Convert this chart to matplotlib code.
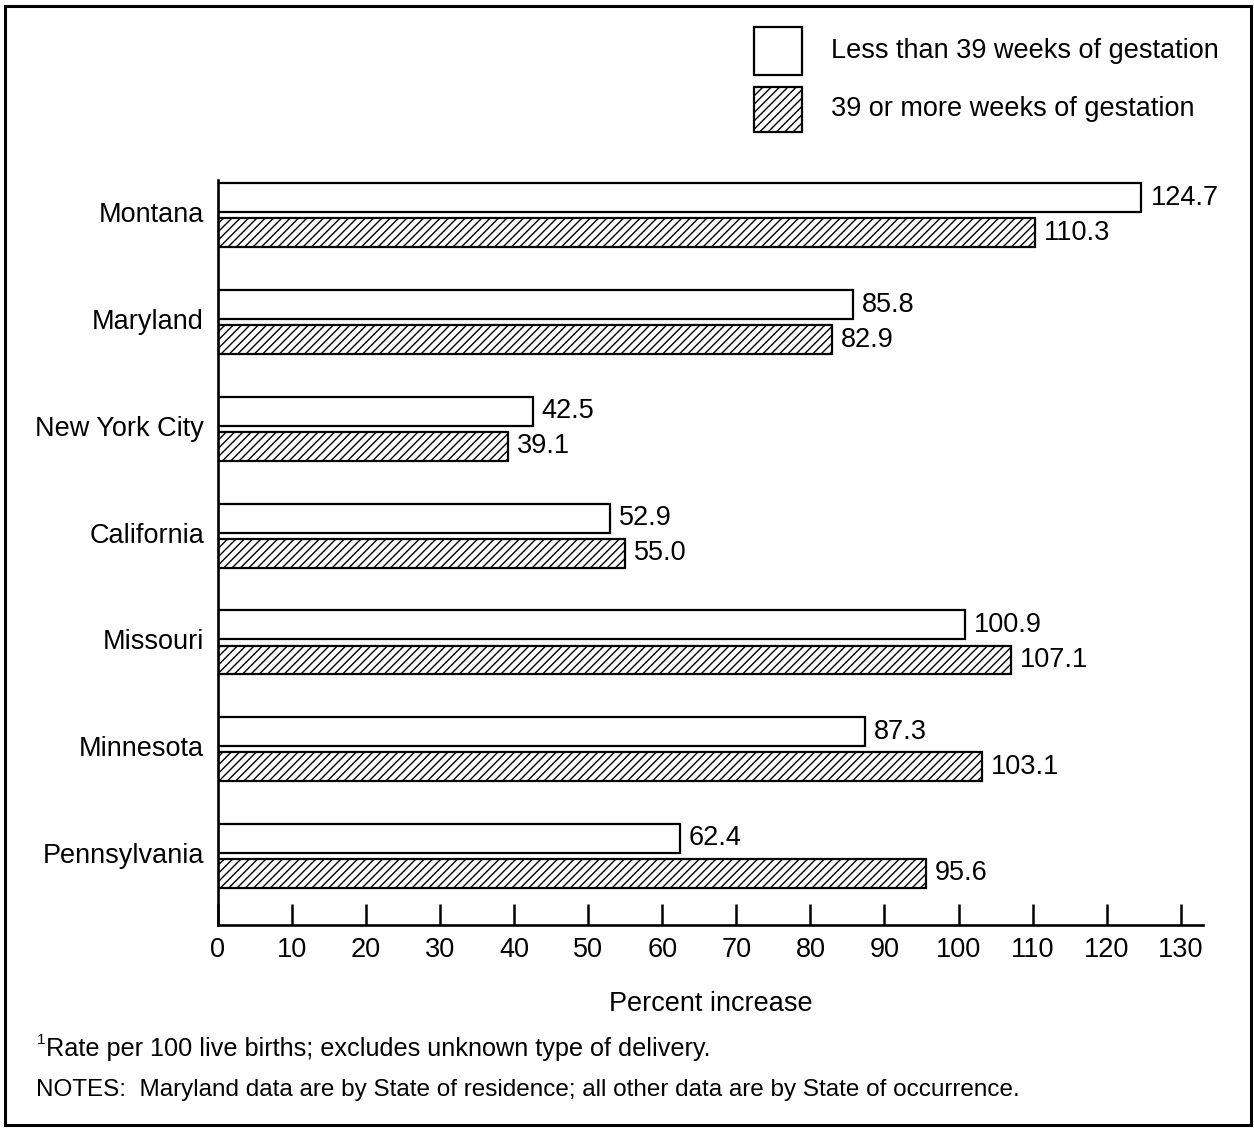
import matplotlib.pyplot as plt
from matplotlib.patches import Rectangle


states = ["Montana", "Maryland", "New York City", "California",
          "Missouri", "Minnesota", "Pennsylvania"]
less_39 = [124.7, 85.8, 42.5, 52.9, 100.9, 87.3, 62.4]
more_39 = [110.3, 82.9, 39.1, 55.0, 107.1, 103.1, 95.6]
x_ticks = list(range(0, 140, 10))

legend_labels = ["Less than 39 weeks of gestation", "39 or more weeks of gestation"]
footnote = "Rate per 100 live births; excludes unknown type of delivery."
notes = "NOTES:  Maryland data are by State of residence; all other data are by State of occurrence."

plt.rcParams["font.family"] = ["Liberation Sans", "DejaVu Sans"]
plt.rcParams["hatch.linewidth"] = 1.0

FS = 19.5

fig = plt.figure(figsize=(12.54, 11.28), dpi=100)
ax = fig.add_axes([0.1738, 0.18, 0.7855, 0.6604])

pos = list(range(len(states)))
h = 0.27
off = 0.164

ax.barh([p - off for p in pos], less_39, height=h, color="white",
        edgecolor="black", linewidth=1.6)
ax.barh([p + off for p in pos], more_39, height=h, color="white",
        edgecolor="black", linewidth=1.6, hatch="////")

# подписи значень
for p, v in zip(pos, less_39):
    ax.text(v + 1.2, p - off, f"{v:.1f}", va="center", ha="left", fontsize=FS)
for p, v in zip(pos, more_39):
    ax.text(v + 1.2, p + off, f"{v:.1f}", va="center", ha="left", fontsize=FS)

ax.set_xlim(0, 133)
ax.set_ylim(6.646, -0.33)
ax.set_xticks(x_ticks)
ax.set_xticklabels([str(t) for t in x_ticks], fontsize=FS)
ax.set_yticks(pos)
ax.set_yticklabels(states, fontsize=FS, va="center")
ax.tick_params(axis="x", direction="in", length=15, width=1.8, pad=9)
ax.tick_params(axis="y", length=0, pad=10)
ax.set_xlabel("Percent increase", fontsize=FS, labelpad=20)

for side in ["top", "right"]:
    ax.spines[side].set_visible(False)
for side in ["left", "bottom"]:
    ax.spines[side].set_linewidth(1.9)

# легенда вручну
W, H = 1254, 1128
fig.patches.append(Rectangle((754 / W, 1 - 75 / H), 48 / W, 48 / H,
                             transform=fig.transFigure, facecolor="white",
                             edgecolor="black", linewidth=1.6))
fig.patches.append(Rectangle((754 / W, 1 - 132 / H), 48 / W, 45 / H,
                             transform=fig.transFigure, facecolor="white",
                             edgecolor="black", linewidth=1.6, hatch="////"))
fig.text(831 / W, 1 - 51 / H, legend_labels[0], va="center", ha="left", fontsize=FS)
fig.text(831 / W, 1 - 109 / H, legend_labels[1], va="center", ha="left", fontsize=FS)

# примітки
fig.text(37 / W, 1 - 1040 / H, "1", va="center", ha="left", fontsize=11)
fig.text(46 / W, 1 - 1049 / H, footnote, va="center", ha="left", fontsize=18.2)
fig.text(36 / W, 1 - 1090 / H, notes, va="center", ha="left", fontsize=17.5)

# рамка
fig.patches.append(Rectangle((5 / W, 3 / H), 1246 / W, 1119 / H,
                             transform=fig.transFigure, fill=False,
                             edgecolor="black", linewidth=2.2))

fig.savefig("out.png", dpi=100)
